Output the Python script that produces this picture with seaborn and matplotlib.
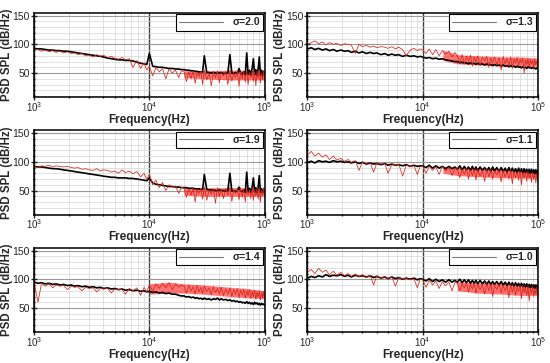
import numpy as np
import pandas as pd
import matplotlib
matplotlib.use('Agg')
import matplotlib.pyplot as plt
import seaborn as sns
from matplotlib.lines import Line2D
from matplotlib.ticker import MultipleLocator, LogLocator, NullFormatter

sns.set_theme(style='ticks')
plt.rcParams['font.family'] = ['Liberation Sans', 'DejaVu Sans']
plt.rcParams['mathtext.fontset'] = 'custom'
plt.rcParams['mathtext.rm'] = 'Liberation Sans'

nan = np.nan

# frequency samples (Hz)
freq = [1000, 1080, 1160, 1250, 1350, 1450, 1550, 1680, 1800, 1950, 2100, 2250, 2400, 2600, 2800, 3000,
        3250, 3500, 3750, 4000, 4350, 4700, 5000, 5400, 5800, 6200, 6700, 7200, 7800, 8400, 9000, 9500,
        10000, 10700, 11400, 12200, 13000, 13900, 14800, 15800, 16900, 18000, 19000,
        20000, 21000, 22000, 23000, 24000, 25000, 26000, 27000, 28000, 29000,
        30000, 31500, 33000, 34500, 36000, 37500, 39000, 40500, 42000, 44000,
        46000, 48000, 50000, 52000, 54000, 56000, 58000, 60000, 62000, 64000,
        66000, 68000, 70000, 72000, 74000, 76000, 78000, 80000, 82000, 84000,
        86000, 88000, 90000, 92000, 94000, 96000, 98000, 100000]

sigma_labels = ['2.0', '1.3', '1.9', '1.1', '1.4', '1.0']

black_20 = [93, 92, 92, 91, 90, 90, 89, 89, 88, 88, 87, 86, 85, 84, 83, 82, 81, 80, 79, 78, 76, 75, 74, 73, 73, 72, 72, 71, 69, 67, 66, 65,
            84, 62, 61, 60, 60, 59, 58, 58, 57, 57, 56,
            56, 55, 55, 54, 54, 53, 53, 52, 52, 52, 80, 51, 51, 50, 51, 50, 50, 50, 51, 49,
            50, 50, 82, 50, 49, 51, 49, 58, 50, 48, 52, 47, 85, 48, 55, 46, 58, 75, 47, 56,
            46, 57, 78, 47, 55, 46, 53, 48]
red_20 = [90, 91, 88, 90, 87, 89, 86, 88, 85, 87, 84, 85, 82, 84, 80, 81, 78, 82, 79, 81, 77, 79, 76, 74, 77, 73, 75, 60, 72, 58, 68, 55,
          62, 45, 60, 52, 58, 40, 57, 50, 55, 42, 54,
          53, 35, 52, 40, 54, 32, 51, 44, 53, 30, 55, 38, 50, 28, 52, 42, 54, 33, 51, 45,
          53, 30, 55, 36, 50, 42, 54, 27, 52, 40, 53, 34, 55, 30, 51, 43, 54, 36, 52, 28,
          53, 41, 55, 33, 50, 38, 54, 35]

black_19 = [92, 91, 91, 90, 89, 88, 88, 87, 86, 85, 84, 83, 82, 81, 80, 79, 78, 77, 76, 75, 74, 73, 73, 72, 72, 72, 71, 71, 70, 69, 68, 67,
            72, 63, 61, 60, 59, 58, 57, 57, 56, 56, 55,
            55, 55, 54, 54, 54, 53, 53, 53, 52, 52, 78, 52, 51, 51, 51, 50, 50, 51, 50, 50,
            49, 50, 80, 49, 50, 48, 50, 56, 49, 48, 51, 47, 82, 48, 54, 47, 56, 72, 47, 55,
            46, 56, 76, 47, 53, 46, 52, 47]
red_19 = [92, 90, 93, 92, 94, 91, 93, 92, 91, 92, 90, 89, 90, 87, 88, 86, 85, 88, 84, 86, 85, 82, 84, 80, 86, 81, 84, 79, 83, 74, 80, 70,
          78, 60, 68, 55, 64, 50, 60, 56, 58, 45, 56,
          54, 38, 53, 42, 55, 30, 52, 45, 54, 35, 56, 33, 51, 44, 53, 28, 55, 40, 52, 36,
          54, 42, 56, 31, 51, 45, 53, 34, 55, 38, 52, 30, 54, 42, 51, 36, 55, 33, 52, 40,
          54, 35, 53, 30, 51, 42, 55, 38]

black_14 = [95, 93, 94, 92, 93, 91, 92, 90, 91, 89, 90, 88, 89, 87, 88, 86, 87, 85, 86, 84, 85, 83, 84, 82, 83, 81, 82, 80, 81, 79, 80, 78,
            79, 77, 78, 76, 77, 75, 76, 74, 74, 72, 71,
            71, 69, 70, 68, 69, 67, 68, 66, 67, 65, 67, 65, 66, 64, 66, 65, 67, 64, 66, 64,
            65, 63, 64, 62, 63, 61, 62, 60, 61, 59, 60, 58, 61, 58, 60, 57, 59, 56, 60, 57,
            59, 56, 58, 55, 58, 56, 57, 55]
red_14 = [95, 60, 93, 88, 92, 85, 90, 88, 89, 82, 88, 86, 87, 80, 86, 84, 85, 78, 84, 83, 84, 76, 83, 82, 82, 74, 84, 80, 85, 72, 86, 78,
          90, 80, 92, 84, 93, 85, 94, 82, 92, 86, 90,
          88, 76, 90, 80, 87, 74, 89, 78, 86, 75, 88, 79, 85, 73, 87, 77, 84, 75, 86, 72,
          83, 74, 85, 70, 82, 73, 84, 68, 81, 72, 83, 67, 80, 71, 82, 66, 79, 70, 81, 65,
          78, 69, 80, 64, 77, 68, 79, 62]

black_13 = [92, 94, 91, 93, 90, 92, 89, 91, 88, 90, 88, 89, 86, 88, 85, 87, 84, 86, 84, 85, 82, 84, 81, 83, 81, 82, 79, 81, 79, 80, 78, 79,
            78, 76, 77, 75, 76, 74, 75, 73, 72, 71, 70,
            70, 68, 69, 67, 68, 66, 68, 66, 67, 65, 67, 65, 66, 64, 66, 64, 65, 63, 65, 63,
            64, 62, 64, 62, 63, 61, 63, 61, 62, 60, 62, 60, 61, 59, 61, 59, 60, 58, 61, 59,
            60, 58, 60, 58, 59, 57, 59, 58]
red_13 = [100, 103, 106, 101, 104, 99, 103, 100, 102, 98, 101, 100, 99, 84, 100, 96, 98, 95, 97, 94, 96, 95, 93, 96, 92, 95, 91, 80, 90, 93, 89, 92,
          90, 84, 92, 82, 91, 80, 89, 83, 88, 78, 86,
          80, 68, 82, 66, 79, 70, 81, 62, 78, 69, 80, 64, 77, 71, 79, 60, 76, 68, 78, 65,
          77, 55, 79, 66, 76, 63, 78, 58, 75, 67, 77, 62, 74, 68, 76, 50, 73, 65, 75, 60,
          74, 66, 72, 58, 75, 64, 71, 62]

black_11 = [99, 101, 98, 102, 100, 101, 99, 102, 100, 101, 99, 100, 98, 100, 97, 99, 96, 98, 96, 97, 95, 97, 94, 96, 94, 95, 93, 95, 92, 94, 92, 93,
            93, 90, 94, 89, 93, 89, 92, 88, 92, 88, 91,
            87, 93, 86, 92, 86, 91, 85, 92, 85, 91, 84, 91, 85, 90, 84, 90, 83, 91, 84, 90,
            83, 90, 83, 89, 82, 90, 83, 89, 82, 88, 81, 89, 82, 88, 80, 88, 81, 87, 80, 87,
            79, 87, 80, 86, 79, 86, 78, 85]
red_11 = [112, 118, 110, 115, 108, 112, 104, 110, 103, 106, 101, 104, 99, 102, 85, 100, 97, 99, 82, 98, 96, 97, 80, 95, 94, 96, 75, 94, 92, 93, 78, 92,
          93, 80, 92, 85, 91, 78, 92, 84, 90, 76, 89,
          88, 72, 87, 78, 89, 70, 86, 76, 88, 68, 87, 75, 85, 66, 88, 74, 86, 70, 84, 77,
          86, 65, 85, 73, 83, 70, 86, 62, 84, 72, 82, 68, 85, 60, 83, 71, 81, 66, 84, 70,
          80, 64, 82, 69, 79, 63, 81, 67]

black_10 = [102, 105, 103, 106, 104, 108, 105, 107, 106, 108, 105, 107, 104, 107, 105, 106, 104, 106, 103, 105, 102, 104, 101, 104, 101, 103, 100, 102, 100, 102, 99, 101,
            100, 97, 101, 96, 100, 96, 99, 95, 99, 95, 98,
            95, 100, 94, 99, 94, 99, 93, 98, 93, 98, 92, 98, 92, 97, 91, 97, 91, 96, 91, 96,
            90, 96, 90, 95, 89, 95, 89, 94, 88, 94, 88, 93, 87, 93, 87, 92, 86, 92, 86, 91,
            85, 91, 85, 90, 84, 90, 84, 89]
red_10 = [112, 117, 110, 119, 112, 116, 108, 114, 107, 112, 106, 110, 105, 109, 104, 108, 103, 107, 90, 106, 102, 105, 101, 104, 88, 103, 100, 102, 99, 101, 85, 100,
          99, 86, 98, 90, 97, 84, 96, 89, 95, 80, 94,
          93, 80, 92, 85, 94, 78, 91, 83, 93, 75, 92, 82, 90, 74, 93, 80, 91, 70, 89, 82,
          92, 76, 90, 80, 88, 68, 91, 78, 89, 72, 87, 79, 90, 66, 88, 76, 86, 72, 89, 62,
          85, 75, 88, 70, 84, 73, 87, 68]

# dense red band (envelope of the high-frequency red trace), read on a coarse grid
band_freq = [10000, 15000, 20000, 30000, 50000, 70000, 100000]
band_lo_20 = [nan, nan, 42, 40, 38, 38, 38]
band_hi_20 = [nan, nan, 54, 54, 55, 55, 55]
band_lo_19 = [nan, nan, 42, 40, 40, 40, 40]
band_hi_19 = [nan, nan, 55, 55, 55, 55, 54]
band_lo_14 = [74, 76, 76, 74, 70, 68, 66]
band_hi_14 = [92, 95, 92, 90, 86, 84, 80]
band_lo_13 = [nan, 72, 66, 64, 62, 62, 62]
band_hi_13 = [nan, 90, 82, 80, 78, 78, 76]
band_lo_11 = [nan, 80, 76, 74, 72, 72, 72]
band_hi_11 = [nan, 92, 90, 90, 88, 86, 85]
band_lo_10 = [nan, nan, 80, 76, 74, 72, 72]
band_hi_10 = [nan, nan, 96, 94, 93, 92, 92]

black_series = [black_20, black_13, black_19, black_11, black_14, black_10]
red_series = [red_20, red_13, red_19, red_11, red_14, red_10]
band_lo = [band_lo_20, band_lo_13, band_lo_19, band_lo_11, band_lo_14, band_lo_10]
band_hi = [band_hi_20, band_hi_13, band_hi_19, band_hi_11, band_hi_14, band_hi_10]

fig, axes = plt.subplots(3, 2, figsize=(5.5, 3.63), dpi=100)
fig.subplots_adjust(left=0.062, right=0.978, bottom=0.085, top=0.965, wspace=0.186, hspace=0.39)

for ax, lab, bl, rd, lo, hi in zip(axes.flat, sigma_labels, black_series, red_series, band_lo, band_hi):
    df = pd.DataFrame({'f': freq, 'black': bl, 'red': rd})
    ax.set_xscale('log')
    ax.fill_between(band_freq, lo, hi, color='#ff1a1a', alpha=0.6, lw=0, zorder=1.5)
    sns.lineplot(data=df, x='f', y='black', ax=ax, color='black', lw=1.2, estimator=None, zorder=2)
    sns.lineplot(data=df, x='f', y='red', ax=ax, color='#d62818', lw=0.55, estimator=None, zorder=2.1)
    ax.set_xlim(1e3, 1e5)
    ax.set_ylim(8, 155)
    ax.yaxis.set_major_locator(MultipleLocator(50))
    ax.yaxis.set_minor_locator(MultipleLocator(10))
    ax.xaxis.set_major_locator(LogLocator(base=10, numticks=5))
    ax.xaxis.set_minor_locator(LogLocator(base=10, subs=np.arange(2, 10), numticks=20))
    ax.xaxis.set_minor_formatter(NullFormatter())
    ax.grid(which='minor', color='#d4d4d4', lw=0.5)
    ax.grid(which='major', axis='y', color='#9a9a9a', lw=0.8)
    ax.grid(which='major', axis='x', color='#404040', lw=1.0)
    ax.tick_params(which='both', direction='inout')
    ax.tick_params(axis='x', pad=0, labelsize=7)
    ax.tick_params(axis='y', pad=1, labelsize=7.5)
    ax.tick_params(which='major', length=4, width=1)
    ax.tick_params(which='minor', length=2)
    for s in ax.spines.values():
        s.set_linewidth(1.1)
        s.set_color('black')
    ax.set_xlabel('Frequency(Hz)', fontsize=8.5, fontweight='bold', labelpad=0)
    ax.set_ylabel('PSD SPL (dB/Hz)', fontsize=8.3, fontweight='bold', labelpad=0)
    h = Line2D([], [], color='#7a7a7a', lw=0.8)
    leg = ax.legend([h], [f'σ={lab}'], loc='upper right', fancybox=False, framealpha=1,
                    edgecolor='black', prop={'size': 7.5, 'weight': 'bold'}, handlelength=4.2,
                    borderaxespad=0.15, borderpad=0.3, handletextpad=0.9)
    leg.get_frame().set_linewidth(0.8)

fig.savefig('out.png', dpi=100)
